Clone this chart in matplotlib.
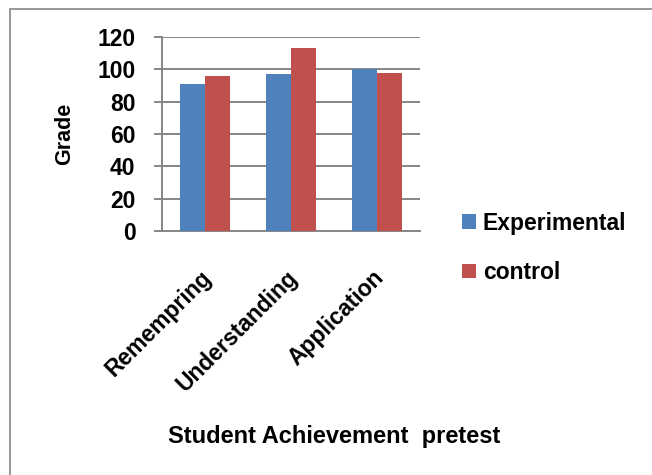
import matplotlib.pyplot as plt
import numpy as np
from matplotlib.patches import Rectangle
from matplotlib.transforms import ScaledTranslation

plt.rcParams['font.family'] = ['Liberation Sans', 'DejaVu Sans']
plt.rcParams['font.weight'] = 'bold'

categories = ["Remempring", "Understanding", "Application"]
experimental = [91, 97, 100.5]
control = [96, 113, 98]
series_names = ["Experimental", "control"]

BLUE = "#4F81BD"
RED = "#C0504D"
GRID = "#868686"
W, H = 652, 475

fig = plt.figure(figsize=(W / 100, H / 100), dpi=100)
ax = fig.add_axes([162 / W, 1 - 231 / H, (420 - 162) / W, (231 - 37) / H])

x = np.arange(len(categories))
bw = 0.29
ax.bar(x - bw / 2, experimental, bw, color=BLUE, label=series_names[0], zorder=3)
ax.bar(x + bw / 2, control, bw, color=RED, label=series_names[1], zorder=3)

ax.set_xlim(-0.5, len(categories) - 0.5)
ax.set_ylim(0, 120)
ax.set_yticks(np.arange(0, 121, 20))
ax.yaxis.grid(True, color=GRID, linewidth=1.4, zorder=0)
ax.set_axisbelow(True)
for s in ["top", "right"]:
    ax.spines[s].set_visible(False)
for s in ["left", "bottom"]:
    ax.spines[s].set_color(GRID)
    ax.spines[s].set_linewidth(1.4)
ax.tick_params(axis="y", length=6, width=1.4, color=GRID, pad=13, labelsize=16.5)
ax.tick_params(axis="x", length=0, pad=25, labelsize=16.5)
ax.set_xticks(x)
ax.set_xticklabels(categories, rotation=45, ha="right", va="top",
                   rotation_mode="anchor", fontweight="bold")
shift = ScaledTranslation(-5 / 100, 0, fig.dpi_scale_trans)
for lab in ax.get_xticklabels():
    lab.set_transform(lab.get_transform() + shift)
for lab in ax.get_yticklabels():
    lab.set_fontweight("bold")

ax.set_ylabel("Grade", fontsize=15.5, fontweight="bold", labelpad=16)
fig.text(334 / W, 1 - 436 / H, "Student Achievement  pretest", ha="center",
         va="center", fontsize=17, fontweight="bold")

fig.legend(loc="center left", bbox_to_anchor=(462 / W, 1 - 248 / H),
           frameon=False, handlelength=0.6, handleheight=0.6,
           handletextpad=0.3, labelspacing=1.15, borderpad=0, borderaxespad=0,
           prop={"weight": "bold", "size": 16.5})

fig.patches.append(Rectangle((10 / W, -0.1), 1.2, 1.1 - 9 / H,
                             transform=fig.transFigure, fill=False,
                             edgecolor=GRID, linewidth=1.2))

fig.savefig("out.png", dpi=100)
